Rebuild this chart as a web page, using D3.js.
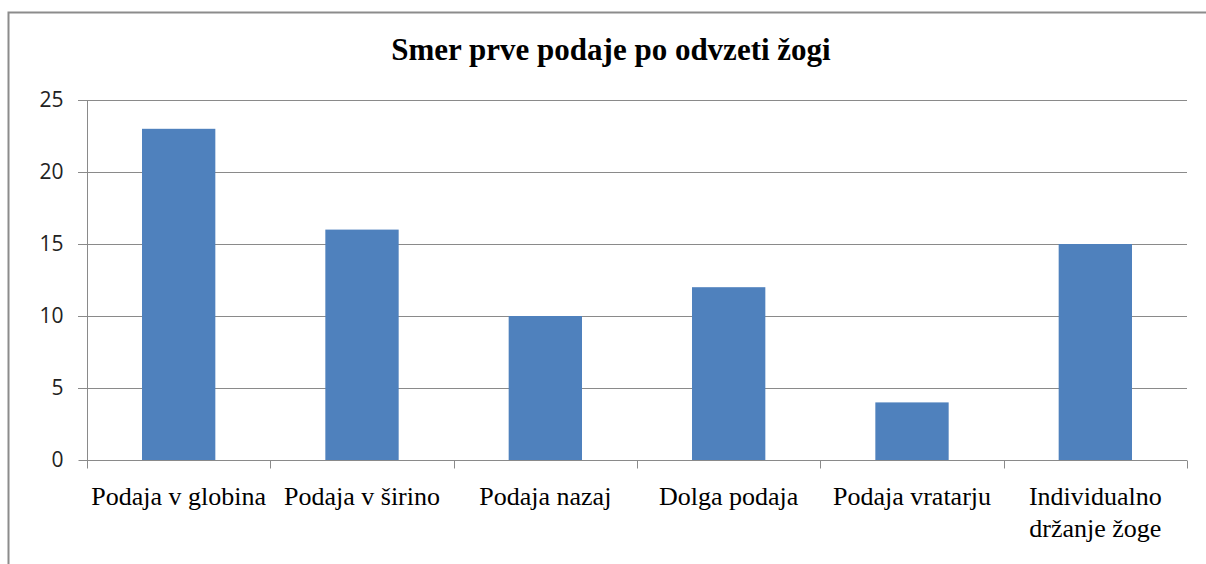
<!DOCTYPE html>
<html><head><meta charset="utf-8">
<script src="https://cdn.jsdelivr.net/npm/d3@7"></script>
<style>body{margin:0;background:#fff;}svg{display:block;}</style>
</head><body>
<script>
const categories = ["Podaja v globina", "Podaja v širino", "Podaja nazaj", "Dolga podaja", "Podaja vratarju", "Individualno držanje žoge"];
const values = [23, 16, 10, 12, 4, 15];
const yTicks = [0, 5, 10, 15, 20, 25];
const title = "Smer prve podaje po odvzeti žogi";

(function () {
const W = 1206, H = 564;
const svg = d3.select("body").append("svg").attr("width", W).attr("height", H);

svg.append("rect").attr("x", 8.5).attr("y", 12.5).attr("width", 1210).attr("height", 600)
  .attr("fill", "#fff").attr("stroke", "#8c8c8c").attr("stroke-width", 2);

const pl = 87, pr = 1187, pt = 100, pb = 460;
const x = d3.scaleBand().domain(categories).range([pl, pr]).paddingInner(0.6).paddingOuter(0.3);
const y = d3.scaleLinear().domain([0, 25]).range([pb, pt]);

// gridlines
svg.append("g").selectAll("line").data(yTicks.filter(d => d > 0)).join("line")
  .attr("x1", pl - 9).attr("x2", pr)
  .attr("y1", d => Math.round(y(d)) + 0.5).attr("y2", d => Math.round(y(d)) + 0.5)
  .attr("stroke", "#8a8a8a").attr("stroke-width", 1);

// bars
svg.append("g").selectAll("rect").data(values).join("rect")
  .attr("x", (d, i) => x(categories[i]))
  .attr("y", d => y(d))
  .attr("width", x.bandwidth())
  .attr("height", d => y(0) - y(d))
  .attr("fill", "#4F81BD");

// y axis
const yAxis = svg.append("g").attr("transform", `translate(${pl + 0.5},0)`)
  .call(d3.axisLeft(y).tickValues(yTicks).tickSize(9).tickPadding(15));
yAxis.select(".domain").attr("stroke", "#8a8a8a").attr("d", `M0,${pt}V${pb}`);
yAxis.selectAll(".tick line").attr("stroke", "#8a8a8a");
yAxis.selectAll(".tick text").attr("font-family", "'Open Sans', sans-serif").attr("font-size", 21).attr("fill", "#222");

// x axis
const xAxis = svg.append("g").attr("transform", `translate(0,${pb + 0.5})`);
xAxis.append("line").attr("x1", pl).attr("x2", pr).attr("stroke", "#8a8a8a");
const step = x.step();
const bounds = d3.range(categories.length + 1).map(i => pl + i * step);
xAxis.selectAll("line.t").data(bounds).join("line").attr("class", "t")
  .attr("x1", d => Math.round(d) + 0.5).attr("x2", d => Math.round(d) + 0.5)
  .attr("y1", 0).attr("y2", 8).attr("stroke", "#8a8a8a");

const labelLines = categories.map(c => c === "Individualno držanje žoge" ? ["Individualno", "držanje žoge"] : [c]);
xAxis.selectAll("text").data(labelLines).join("text")
  .attr("text-anchor", "middle")
  .attr("font-family", "'Liberation Serif', 'Times New Roman', serif")
  .attr("font-size", 26).attr("fill", "#000")
  .each(function(lines, i) {
    const t = d3.select(this);
    lines.forEach((l, j) => t.append("tspan")
      .attr("x", x(categories[i]) + x.bandwidth() / 2)
      .attr("y", 44.5 + j * 32).text(l));
  });

svg.append("text").attr("x", 611).attr("y", 60).attr("text-anchor", "middle")
  .attr("font-family", "'Liberation Serif', 'Times New Roman', serif")
  .attr("font-weight", "bold").attr("font-size", 31).text(title);
})();
</script>
</body></html>
